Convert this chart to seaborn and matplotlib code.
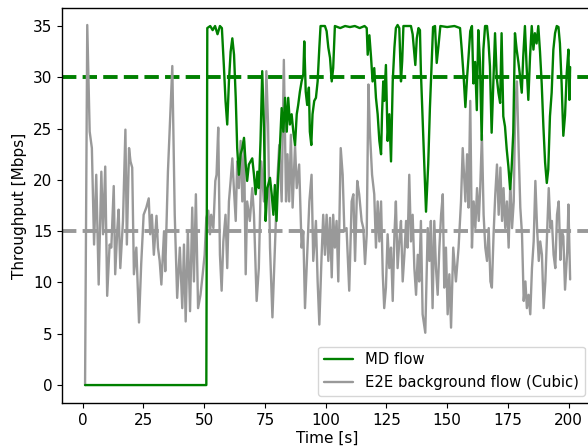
import numpy as np
import pandas as pd
import matplotlib
matplotlib.use("Agg")
import matplotlib.pyplot as plt
import seaborn as sns

# ---- data ----
bg_time = [1.0, 1.9, 2.9, 3.8, 4.7, 5.6, 6.6, 7.7, 8.4, 9.3, 10.1, 11.1, 11.8, 12.8, 13.4, 14.3, 14.8, 15.5, 16.6, 17.6,
           18.2, 19.1, 19.7, 20.4, 21.1, 22.1, 23.2, 24.1, 25.1, 26.2, 27.2, 27.8, 28.5, 29.3, 30.4, 31.0, 31.7, 32.4, 33.5, 34.0,
           35.1, 36.9, 37.9, 38.9, 40.0, 41.0, 41.7, 42.4, 43.3, 44.2, 45.1, 45.8, 46.6, 47.5, 48.5, 49.4, 50.2, 50.9, 51.7, 52.4,
           52.9, 53.8, 54.6, 55.1, 55.8, 56.5, 57.2, 57.9, 58.8, 59.5, 60.2, 60.9, 61.6, 62.3, 63.0, 63.6, 64.3, 65.0, 65.7, 66.4,
           67.1, 67.7, 68.8, 69.8, 70.5, 71.6, 72.5, 73.5, 74.6, 75.6, 76.3, 77.1, 78.1, 79.1, 80.1, 80.9, 81.9, 82.8, 83.7, 84.3,
           85.0, 85.7, 86.4, 87.4, 88.1, 89.1, 90.1, 90.8, 91.5, 92.4, 93.3, 94.2, 94.9, 96.0, 96.7, 97.4, 98.3, 99.0, 99.7, 100.4,
           101.1, 101.8, 102.5, 103.1, 103.8, 104.5, 105.2, 106.2, 107.0, 107.7, 108.6, 109.7, 110.7, 111.4, 112.1, 113.0, 113.8,
           114.8, 115.5, 116.2, 116.9, 117.6, 118.2, 119.1, 120.0, 120.7, 121.4, 122.1, 122.8, 123.5, 124.1, 124.8, 125.5, 126.2,
           126.9, 127.6, 128.3, 128.9, 129.6, 130.3, 131.0, 131.7, 132.4, 133.1, 133.7, 134.4, 135.1, 135.8, 136.5, 137.2, 137.9,
           138.5, 139.2, 139.9, 141.0, 142.0, 142.7, 143.3, 144.0, 144.7, 145.4, 146.1, 146.8, 147.5, 148.2, 148.8, 149.5, 150.2,
           150.9, 151.6, 152.5, 153.6, 154.7, 155.7, 156.4, 156.8, 157.5, 158.2, 158.8, 159.5, 160.2, 160.9, 161.6, 162.3, 163.0,
           163.6, 164.3, 165.0, 165.7, 166.4, 167.1, 167.8, 168.4, 169.1, 169.8, 170.5, 171.2, 171.9, 172.6, 173.2, 173.9, 174.6,
           175.3, 176.0, 176.7, 177.4, 178.0, 178.7, 179.4, 180.1, 180.8, 181.5, 182.2, 182.8, 183.5, 184.2, 184.9, 185.6, 186.3,
           187.0, 187.7, 188.3, 189.0, 189.7, 190.4, 191.1, 191.8, 192.5, 193.1, 193.8, 194.5, 195.2, 195.9, 196.6, 197.2, 197.8,
           198.5, 199.4, 199.9, 200.6]
bg_mbps = [0.0, 35.1, 24.7, 23.1, 13.7, 20.5, 9.8, 20.8, 14.7, 21.3, 8.7, 13.7, 13.4, 19.4, 10.8, 15.3, 17.1, 11.4, 16.0, 24.9,
           13.7, 23.1, 21.8, 21.2, 10.8, 13.4, 6.1, 11.8, 16.6, 17.3, 18.2, 14.7, 16.6, 12.7, 16.5, 13.4, 12.1, 9.8, 15.0, 11.1,
           20.8, 31.1, 16.6, 8.5, 13.4, 7.5, 13.7, 6.2, 15.0, 7.2, 17.3, 10.1, 18.6, 7.5, 8.8, 10.8, 12.7, 16.3, 17.0, 14.7,
           16.6, 15.3, 19.9, 20.5, 25.1, 12.7, 9.2, 14.0, 16.6, 11.4, 17.9, 19.9, 22.1, 18.9, 16.0, 21.8, 19.2, 23.8, 17.9, 23.8,
           10.8, 17.9, 16.0, 19.2, 16.6, 8.2, 11.4, 21.8, 17.9, 30.6, 25.4, 13.4, 6.6, 13.4, 19.9, 23.4, 17.9, 31.7, 17.9, 22.5,
           17.9, 24.4, 17.3, 23.4, 19.2, 21.5, 13.4, 15.0, 7.5, 12.7, 17.9, 20.5, 12.1, 16.0, 10.1, 5.9, 12.4, 16.6, 12.7, 16.6,
           12.1, 16.3, 10.5, 16.6, 13.4, 16.0, 10.1, 23.1, 20.5, 15.0, 15.3, 9.2, 17.9, 18.6, 12.1, 19.9, 18.6,
           16.0, 15.3, 11.8, 14.7, 29.3, 24.7, 20.5, 18.6, 13.4, 17.9, 14.0, 17.9, 10.8, 7.5, 9.5, 14.7, 11.4,
           13.4, 8.2, 14.7, 17.9, 11.4, 14.0, 16.0, 10.1, 12.7, 16.0, 13.4, 20.5, 14.0, 16.6, 11.4, 8.8, 12.7,
           10.1, 16.0, 6.9, 5.1, 15.3, 12.1, 16.0, 7.5, 16.0, 11.4, 8.8, 13.4, 16.6, 18.6, 9.5, 13.4, 6.9,
           10.8, 5.6, 13.4, 10.1, 13.4, 17.9, 23.1, 21.2, 17.9, 22.5, 17.3, 27.7, 13.4, 17.9, 15.3, 19.2, 16.0,
           19.2, 24.4, 16.6, 13.4, 12.1, 15.3, 10.1, 9.5, 14.7, 18.6, 21.5, 16.6, 21.2, 16.0, 19.2, 15.3, 17.9,
           13.4, 19.9, 15.3, 17.9, 27.0, 29.6, 23.1, 17.3, 14.7, 8.2, 10.1, 7.5, 8.8, 6.9, 11.4, 14.0, 19.9,
           15.3, 12.1, 14.0, 12.7, 7.5, 10.1, 14.7, 19.2, 15.3, 16.0, 12.7, 11.4, 16.6, 17.9, 12.2, 15.0, 14.5,
           9.3, 13.0, 17.6, 10.3]

md_time = [1.0, 50.9, 51.3, 52.5, 53.5, 54.5, 55.5, 56.5, 57.3, 58.1, 58.8, 59.5, 60.2, 60.9, 61.6, 62.3, 63.0, 63.6, 64.3,
           65.0, 65.7, 66.4, 67.1, 67.7, 68.4, 69.8, 70.5, 71.2, 71.9, 72.5, 73.2, 73.9, 74.6, 75.3, 76.0, 77.1, 77.8, 78.5,
           79.1, 79.8, 80.5, 81.2, 81.9, 82.6, 83.3, 84.0, 84.6, 85.3, 86.0, 86.7, 87.4, 88.1, 88.7, 89.4, 90.1, 90.8, 91.2,
           91.8, 92.4, 93.1, 93.5, 94.1, 94.6, 95.3, 96.0, 96.7, 97.4, 97.9, 99.7, 100.4, 101.1, 101.8, 102.5, 103.1, 103.8,
           106.0, 108.0, 110.0, 112.0, 114.0, 116.0, 116.9, 117.3, 118.0, 118.7, 119.3, 120.0, 120.7, 121.4, 122.1, 122.8,
           123.2, 123.7, 124.1, 124.8, 125.5, 126.2, 126.9, 127.6, 128.3, 128.9, 129.6, 130.3, 131.0, 131.5, 132.0, 135.1,
           135.8, 136.9, 137.5, 138.2, 138.8, 139.2, 140.2, 141.3, 142.2, 142.9, 143.6, 144.2, 145.0, 145.7, 146.4, 147.2,
           150.0, 153.0, 155.3, 156.0, 156.8, 157.5, 158.2, 158.8, 159.5, 160.2, 160.8, 161.5, 162.2, 162.8, 163.5, 164.2,
           164.9, 165.6, 166.4, 167.0, 167.6, 168.3, 169.0, 169.7, 170.4, 171.1, 171.8, 172.4, 173.1, 173.8, 174.5, 175.2,
           175.9, 176.5, 177.2, 177.9, 178.6, 179.3, 180.0, 180.7, 181.3, 182.0, 182.7, 183.4, 184.1, 184.8, 185.5, 186.1,
           186.8, 187.5, 188.2, 188.9, 189.6, 190.3, 191.0, 191.6, 192.3, 193.0, 193.7, 194.4, 195.1, 195.8, 196.4, 197.1,
           197.8, 198.5, 199.2, 199.9, 200.3, 200.6]
md_mbps = [0.0, 0.0, 34.8, 35.0, 34.6, 35.0, 34.2, 35.0, 34.8, 31.2, 27.7, 25.4, 29.6, 32.5, 33.8, 32.2, 28.0, 23.1, 20.5,
           22.5, 23.1, 24.1, 21.5, 19.9, 21.5, 22.1, 20.5, 18.6, 20.8, 19.2, 23.8, 30.6, 25.1, 16.0, 19.2, 20.2, 18.6, 16.6,
           19.5, 16.0, 20.5, 23.4, 27.0, 24.7, 28.0, 24.7, 28.0, 25.4, 26.4, 24.7, 23.4, 26.4, 27.3, 28.6, 29.6, 30.3, 33.5,
           28.6, 27.3, 29.0, 24.7, 23.4, 26.4, 27.7, 28.0, 29.6, 32.9, 35.0, 35.0, 34.5, 32.9, 31.9, 29.6, 30.9, 35.0,
           34.8, 35.0, 34.9, 35.0, 34.8, 35.0, 34.8, 32.2, 34.1, 31.9, 29.6, 30.9, 28.0, 26.4, 23.8, 22.5,
           26.4, 29.6, 27.7, 31.2, 23.8, 26.4, 21.8, 29.6, 32.9, 34.8, 35.1, 34.8, 29.6, 31.6, 35.0, 35.0,
           34.2, 31.2, 33.8, 34.8, 34.6, 30.5, 24.0, 16.9, 21.5, 27.0, 31.2, 34.9, 35.0, 31.4, 33.0, 35.0,
           34.9, 35.0, 34.8, 32.7, 30.0, 27.1, 30.0, 32.0, 34.5, 35.0, 29.4, 31.5, 26.8, 34.6, 31.5, 23.9,
           32.7, 35.0, 35.0, 33.5, 31.1, 24.6, 29.6, 34.3, 30.0, 28.5, 27.5, 34.3, 26.2, 25.2, 23.0, 21.3,
           19.1, 21.0, 24.6, 34.3, 32.7, 31.5, 30.1, 28.5, 32.0, 35.0, 31.0, 27.8, 32.0, 35.0, 32.7, 34.3,
           33.3, 35.0, 32.5, 29.4, 25.2, 21.7, 19.7, 21.0, 26.2, 28.5, 32.7, 34.3, 35.0, 34.9, 33.3, 29.4,
           24.3, 26.3, 30.4, 32.7, 27.8, 31.0]

md_target = 30
bg_target = 15

x_ticks = [0, 25, 50, 75, 100, 125, 150, 175, 200]
y_ticks = [0, 5, 10, 15, 20, 25, 30, 35]

# ---- styling ----
sns.set_theme(style="ticks")
FS = 11
plt.rcParams.update({
    "font.family": ["DejaVu Sans"],
    "font.size": FS,
    "axes.labelsize": FS,
    "xtick.labelsize": FS,
    "ytick.labelsize": FS,
    "legend.fontsize": 10.6,
    "axes.edgecolor": "black",
    "axes.linewidth": 1.0,
    "xtick.color": "black",
    "ytick.color": "black",
    "axes.labelcolor": "black",
    "text.color": "black",
})

GREEN = "#008000"
GRAY = "#999999"

fig = plt.figure(figsize=(5.88, 4.48), dpi=100)
# the reference axes run slightly past the right edge of the image
ax = fig.add_axes([0.1054, 0.1004, 0.9014, 0.8816])

ax.axhline(md_target, color=GREEN, ls="--", lw=2.8, zorder=1)
ax.axhline(bg_target, color=GRAY, ls="--", lw=2.8, zorder=1)

md_df = pd.DataFrame({"t": md_time, "v": md_mbps})
bg_df = pd.DataFrame({"t": bg_time, "v": bg_mbps})

sns.lineplot(data=md_df, x="t", y="v", color=GREEN, lw=1.7, sort=False,
             estimator=None, label="MD flow", ax=ax, zorder=3)
sns.lineplot(data=bg_df, x="t", y="v", color=GRAY, lw=1.7, sort=False,
             estimator=None, label="E2E background flow (Cubic)", ax=ax, zorder=2)

ax.set_xlim(-8.5, 209.6)
ax.set_ylim(-1.75, 36.75)
ax.set_xticks(x_ticks)
ax.set_yticks(y_ticks)
ax.set_xlabel("Time [s]", labelpad=2)
ax.set_ylabel("Throughput [Mbps]", labelpad=4)
for s in ax.spines.values():
    s.set_visible(True)
ax.tick_params(direction="out", length=3.5, width=0.8)

leg = ax.legend(loc="lower right", frameon=True, fancybox=True, framealpha=0.8,
                edgecolor="#cccccc", borderaxespad=0.5)

fig.savefig("out.png", dpi=100)
